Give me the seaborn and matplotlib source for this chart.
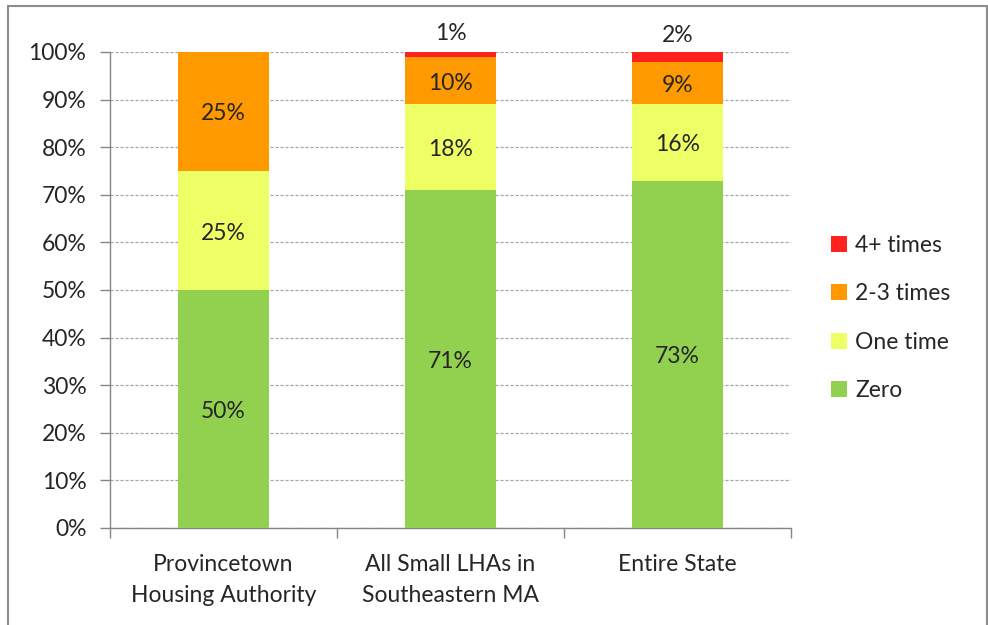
import matplotlib
matplotlib.use("Agg")
import matplotlib.pyplot as plt
from matplotlib.patches import Rectangle, Patch
import seaborn as sns
import numpy as np
import pandas as pd

# Share of households by number of occurrences
categories = ["Provincetown\nHousing Authority", "All Small LHAs in\nSoutheastern MA", "Entire State"]
zero = [50, 71, 73]
one_time = [25, 18, 16]
two_three = [25, 10, 9]
four_plus = [0, 1, 2]

series_names = ["Zero", "One time", "2-3 times", "4+ times"]
series_colors = ["#92D050", "#EEFF66", "#FF9900", "#FF2020"]
yticks = list(range(0, 101, 10))

sns.set_theme(style="white")
plt.rcParams["font.family"] = ["Lato", "DejaVu Sans"]
text_color = "#262626"
fs = 16.5

fig = plt.figure(figsize=(9.88, 6.25), dpi=100)
ax = fig.add_axes([110 / 988, 1 - 528 / 625, (791 - 110) / 988, (528 - 52) / 625])

# outer chart frame
fig.patches.append(Rectangle((8 / 988, -0.05), (987 - 8) / 988, 1 - 6 / 625 + 0.05,
                             transform=fig.transFigure, fill=False,
                             edgecolor="#8C8C8C", linewidth=1.5, zorder=0))

layers = [zero, one_time, two_three, four_plus]
cum = np.cumsum(np.array(layers, dtype=float), axis=0)
df = pd.DataFrame({"category": categories})
for i, name in enumerate(series_names):
    df[name] = cum[i]

# stacked bars: draw the tallest cumulative layer first
for i in reversed(range(len(series_names))):
    sns.barplot(data=df, x="category", y=series_names[i], color=series_colors[i],
                width=0.4, saturation=1, ax=ax, zorder=3, linewidth=0)

# segment labels (the thin top segment gets its label above the bar)
for j in range(len(categories)):
    for i in range(len(series_names)):
        v = layers[i][j]
        if v == 0:
            continue
        center = cum[i][j] - v / 2
        dy = 21 if i == 3 else -2.5
        ax.annotate(f"{v}%", (j, center), xytext=(0, dy), textcoords="offset pixels",
                    ha="center", va="center", fontsize=fs, color=text_color,
                    annotation_clip=False, zorder=4)

ax.set_ylim(0, 100)
ax.set_xlim(-0.5, 2.5)
ax.set_yticks(yticks)
ax.set_yticklabels([f"{t}%" for t in yticks], fontsize=fs, color=text_color)
ax.set_xticks(range(len(categories)))
ax.set_xticklabels(categories, fontsize=fs, color=text_color, linespacing=1.6)
ax.set_xlabel("")
ax.set_ylabel("")

ax.yaxis.grid(True, linestyle=(0, (2.5, 1.5)), color="#A6A6A6", linewidth=0.9, zorder=0)
ax.xaxis.grid(False)
for s in ["top", "right"]:
    ax.spines[s].set_visible(False)
for s in ["left", "bottom"]:
    ax.spines[s].set_color("#868686")
    ax.spines[s].set_linewidth(1.0)

ax.tick_params(axis="y", which="major", left=True, length=7, width=1, color="#868686", pad=10)
ax.set_xticks([-0.5, 0.5, 1.5, 2.5], minor=True)
ax.tick_params(axis="x", which="major", bottom=False, pad=12.5)
ax.tick_params(axis="x", which="minor", bottom=True, length=7, width=1, color="#868686")

handles = [Patch(facecolor=series_colors[i], edgecolor="none", label=series_names[i])
           for i in reversed(range(len(series_names)))]
leg = fig.legend(handles=handles, loc="center left",
                 bbox_to_anchor=(831 / 988, 1 - 318 / 625), frameon=False,
                 fontsize=fs, handlelength=0.7, handleheight=0.7,
                 handletextpad=0.35, labelspacing=1.2, borderpad=0, borderaxespad=0)
for t in leg.get_texts():
    t.set_color(text_color)

fig.savefig("out.png", dpi=100)
